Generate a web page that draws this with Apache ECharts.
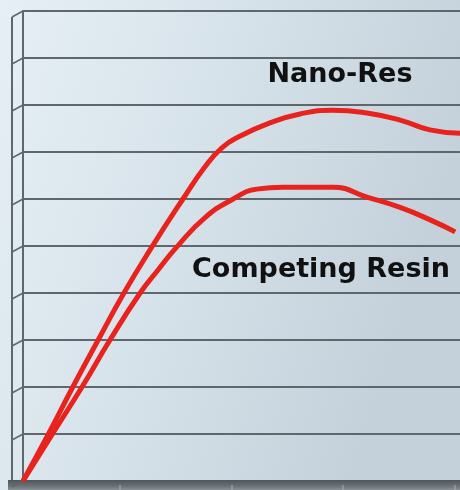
<!DOCTYPE html>
<html>
<head>
<meta charset="utf-8">
<script src="https://cdn.jsdelivr.net/npm/echarts@6/dist/echarts.min.js"></script>
<style>
html,body{margin:0;padding:0;background:#e2ecf3;}
#chart{width:460px;height:490px;}
</style>
</head>
<body>
<div id="chart"></div>
<script>
// Data (x: 0..100 along the axis, y: 0..10 gridline units)
var nanoResX = [0, 5.7, 11.4, 17.2, 23.1, 29.5, 36.6, 41.6, 45.5, 49.7, 56.5, 63.4, 70.9, 78.7, 86.3, 93.1, 100];
var nanoResY = [0, 0.98, 2.0, 3.0, 4.0, 4.98, 6.0, 6.68, 7.09, 7.34, 7.62, 7.81, 7.89, 7.83, 7.68, 7.47, 7.40];
var competingX = [0, 6.6, 13.5, 19.9, 26.8, 30.9, 35.2, 41.6, 48.1, 53.5, 59.5, 70.9, 78.7, 86.3, 93.8, 98.9];
var competingY = [0, 0.98, 2.0, 3.0, 4.0, 4.49, 4.98, 5.6, 6.0, 6.21, 6.25, 6.25, 6.04, 5.82, 5.53, 5.30];
var seriesNames = ['Nano-Res', 'Competing Resin'];
var yTicks = [0, 1, 2, 3, 4, 5, 6, 7, 8, 9, 10];

function pairs(xs, ys) { return xs.map(function (x, i) { return [x, ys[i]]; }); }

var chart = echarts.init(document.getElementById('chart'));
var gridColor = '#5f676c';

var graphics = [
  { type: 'rect', z: -10, shape: { x: 0, y: 0, width: 460, height: 490 },
    style: { fill: new echarts.graphic.LinearGradient(0, 0, 1, 0.3, [
      { offset: 0, color: '#e6eff5' }, { offset: 0.5, color: '#d6e2ea' }, { offset: 1, color: '#c4d1da' }]) } },
  { type: 'line', z: 5, shape: { x1: 12, y1: 17, x2: 12, y2: 487 }, style: { stroke: gridColor, lineWidth: 2 } },
  { type: 'rect', z: 5, shape: { x: 8, y: 480, width: 452, height: 10 },
    style: { fill: new echarts.graphic.LinearGradient(0, 0, 0, 1, [
      { offset: 0, color: '#4f5559' }, { offset: 0.6, color: '#6a7075' }, { offset: 1, color: '#8a9196' }]) } }
];
yTicks.forEach(function (v) {
  var gy = 481 - v * 47;
  graphics.push({ type: 'line', z: 5, shape: { x1: 12, y1: gy + 6, x2: 23, y2: gy }, style: { stroke: gridColor, lineWidth: 1.5 } });
});
[120, 232, 343, 455].forEach(function (x) {
  graphics.push({ type: 'line', z: 6, shape: { x1: x, y1: 485, x2: x, y2: 490 }, style: { stroke: '#a9b0b5', lineWidth: 1 } });
});
graphics.push({ type: 'text', z: 10, x: 340, y: 88, style: { text: seriesNames[0], fill: '#111', font: 'bold 27px "DejaVu Sans"', textAlign: 'center', textVerticalAlign: 'bottom' } });
graphics.push({ type: 'text', z: 10, x: 321, y: 283, style: { text: seriesNames[1], fill: '#111', font: 'bold 27px "DejaVu Sans"', textAlign: 'center', textVerticalAlign: 'bottom' } });

chart.setOption({
  animation: false,
  backgroundColor: 'transparent',
  grid: { left: 23, right: 0, top: 11, bottom: 9, containLabel: false },
  xAxis: { type: 'value', min: 0, max: 100, axisLine: { show: false }, axisTick: { show: false }, axisLabel: { show: false }, splitLine: { show: false } },
  yAxis: { type: 'value', min: 0, max: 10, interval: 1,
    axisLine: { show: true, lineStyle: { color: gridColor, width: 2 } },
    axisTick: { show: false }, axisLabel: { show: false },
    splitLine: { show: true, lineStyle: { color: gridColor, width: 2 } } },
  graphic: graphics,
  series: [
    { name: seriesNames[0], type: 'line', data: pairs(nanoResX, nanoResY), smooth: 0.5, symbol: 'none', z: 8,
      lineStyle: { color: '#e8231e', width: 5 } },
    { name: seriesNames[1], type: 'line', data: pairs(competingX, competingY), smooth: 0.5, symbol: 'none', z: 8,
      lineStyle: { color: '#e8231e', width: 5 } }
  ]
});
</script>
</body>
</html>
